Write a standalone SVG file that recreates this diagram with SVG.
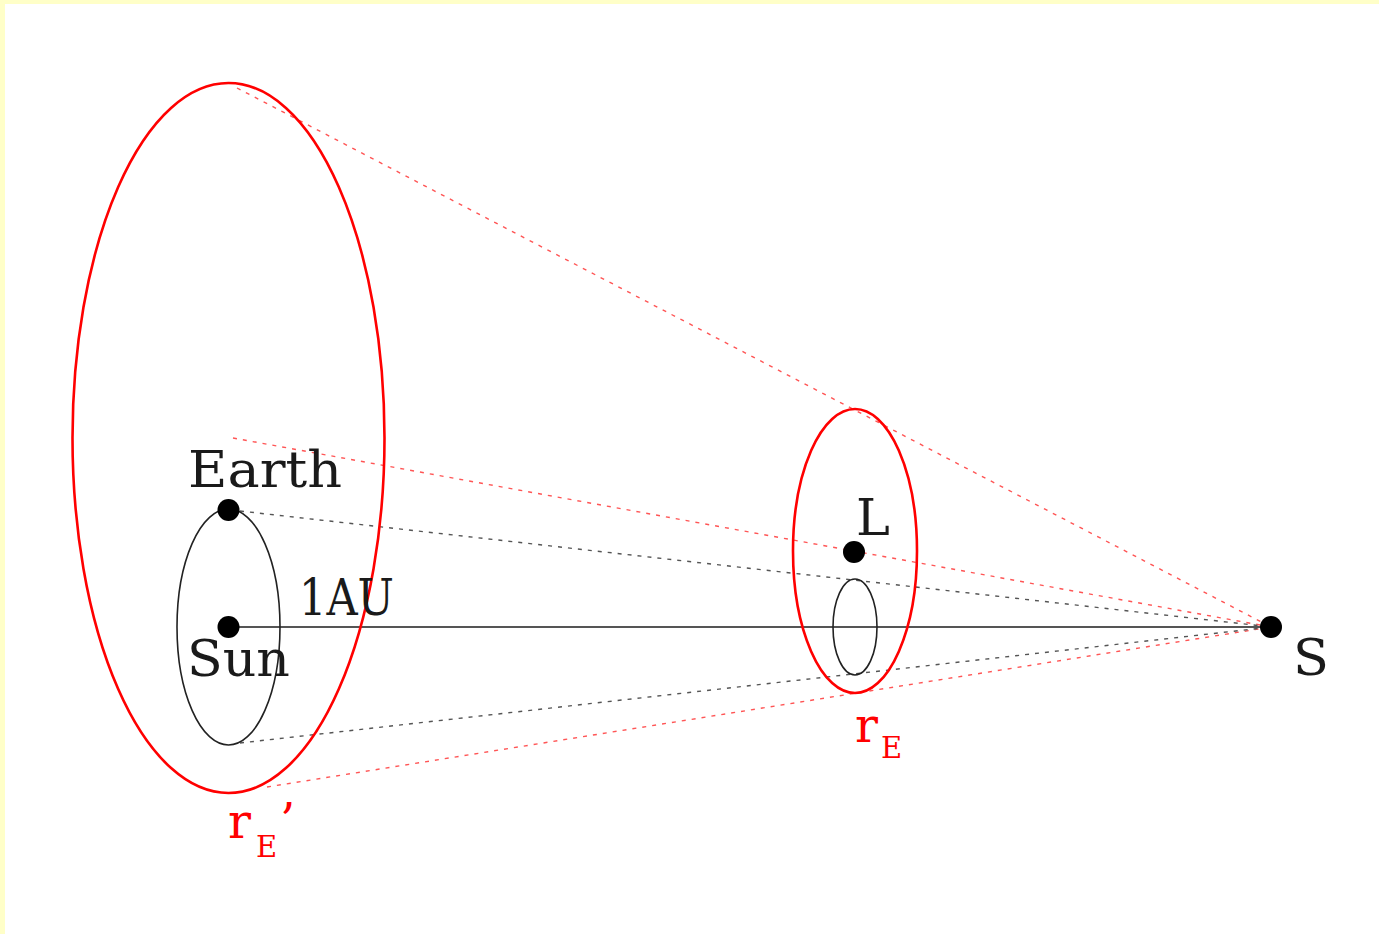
<svg xmlns="http://www.w3.org/2000/svg" width="1379" height="934" viewBox="0 0 1379 934">
<style>
.red{fill:none;stroke:#ff0000;stroke-width:2.6}
.blk{fill:none;stroke:#222;stroke-width:1.6}
.rd{fill:none;stroke:#ff5555;stroke-width:1.4;stroke-dasharray:4 6}
.bd{fill:none;stroke:#555;stroke-width:1.4;stroke-dasharray:4 6}
.dot{fill:#000}
.t{font-family:"DejaVu Serif","Liberation Serif",serif;font-size:51px;fill:#1a1a1a}
.tr{font-family:"DejaVu Serif","Liberation Serif",serif;fill:#ff0000}
</style>
<rect x="0" y="0" width="1379" height="934" fill="#ffffc8"/>
<rect x="5" y="4" width="1374" height="930" fill="#ffffff"/>
<g id="connectors">
<line x1="228" y1="627" x2="1271" y2="627" stroke="#555" stroke-width="2"/>
<line class="rd" x1="237" y1="88" x2="1271" y2="627"/>
<line class="rd" x1="233" y1="438" x2="1271" y2="627"/>
<line class="rd" x1="267" y1="787" x2="1271" y2="627"/>
<line class="bd" x1="240" y1="511" x2="1271" y2="627"/>
<line class="bd" x1="240" y1="743" x2="1271" y2="627"/>
</g>
<g id="big-orbit"><ellipse class="red" cx="228.5" cy="438" rx="156" ry="355"/></g>
<g id="earth-orbit"><ellipse class="blk" cx="228.5" cy="627" rx="51.5" ry="118"/></g>
<g id="lens-orbit"><ellipse class="red" cx="855" cy="551" rx="62" ry="142"/></g>
<g id="small-orbit"><ellipse class="blk" cx="855" cy="627" rx="22" ry="48"/></g>
<g id="sun"><circle class="dot" cx="228.5" cy="627" r="11"/><text class="t" x="187" y="676" textLength="103" lengthAdjust="spacingAndGlyphs">Sun</text></g>
<g id="earth"><circle class="dot" cx="228.5" cy="510" r="11"/><text class="t" x="188" y="487" textLength="154" lengthAdjust="spacingAndGlyphs">Earth</text></g>
<g id="lens"><circle class="dot" cx="854" cy="552" r="11"/><text class="t" x="856" y="535">L</text></g>
<g id="source"><circle class="dot" cx="1271" cy="627" r="11"/><text class="t" x="1293" y="675" font-size="54" textLength="36" lengthAdjust="spacingAndGlyphs">S</text></g>
<g id="au-label"><text class="t" x="299" y="615" font-size="49" textLength="95" lengthAdjust="spacingAndGlyphs">1AU</text></g>
<g id="rE-label"><text class="tr" x="855" y="742" font-size="48">r</text><text class="tr" x="881" y="758" font-size="29">E</text></g>
<g id="rE2-label"><text class="tr" x="228" y="838" font-size="48">r</text><text class="tr" x="256" y="857" font-size="29">E</text><text class="tr" x="280" y="838" font-size="48">’</text></g>
</svg>
